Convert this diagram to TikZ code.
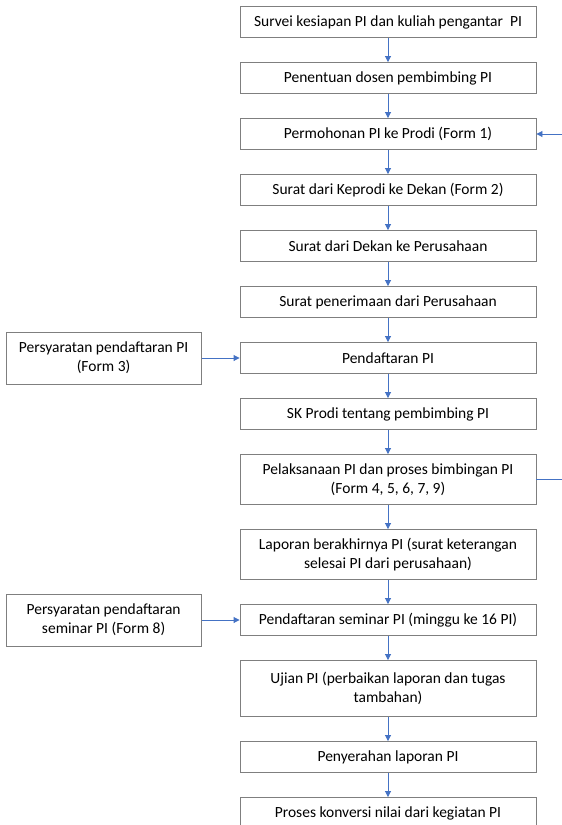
\documentclass[tikz,border=0pt]{standalone}
\usepackage{fontspec}
\setmainfont{Carlito}
\usepackage{xcolor}
\usetikzlibrary{arrows.meta,positioning}
\definecolor{flowblue}{HTML}{4472C4}
\definecolor{boxgray}{HTML}{7F7F7F}
\tikzset{
  stepbox/.style={draw=boxgray,line width=0.9pt,align=center,minimum width=296pt,
    minimum height=31pt,inner sep=2pt,font=\fontsize{15.5}{19}\selectfont},
  sidebox/.style={stepbox,minimum width=195pt,minimum height=52pt},
  flowarrow/.style={-{Triangle[length=6pt,width=6pt]},draw=flowblue,line width=0.9pt},
  flowline/.style={draw=flowblue,line width=0.9pt}
}
\begin{document}
\begin{tikzpicture}[x=1pt,y=-1pt,node distance=24.1pt and 38pt]
  \useasboundingbox (0,0) rectangle (562,825);
  % main sequence
  \node[stepbox] (s1) at (388,22) {Survei kesiapan PI dan kuliah pengantar~~PI};
  \node[stepbox,below=of s1] (s2) {Penentuan dosen pembimbing PI};
  \node[stepbox,below=of s2] (s3) {Permohonan PI ke Prodi (Form 1)};
  \node[stepbox,below=of s3] (s4) {Surat dari Keprodi ke Dekan (Form 2)};
  \node[stepbox,below=of s4] (s5) {Surat dari Dekan ke Perusahaan};
  \node[stepbox,below=of s5] (s6) {Surat penerimaan dari Perusahaan};
  \node[stepbox,below=of s6] (s7) {Pendaftaran PI};
  \node[stepbox,below=of s7] (s8) {SK Prodi tentang pembimbing PI};
  \node[stepbox,below=of s8,minimum height=50pt] (s9) {Pelaksanaan PI dan proses bimbingan PI\\(Form 4, 5, 6, 7, 9)};
  \node[stepbox,below=of s9,minimum height=50pt] (s10) {Laporan berakhirnya PI (surat keterangan\\selesai PI dari perusahaan)};
  \node[stepbox,below=of s10] (s11) {Pendaftaran seminar PI (minggu ke 16 PI)};
  \node[stepbox,below=of s11,minimum height=56pt] (s12) {Ujian PI (perbaikan laporan dan tugas\\tambahan)};
  \node[stepbox,below=of s12] (s13) {Penyerahan laporan PI};
  \node[stepbox,below=of s13] (s14) {Proses konversi nilai dari kegiatan PI};
  % requirements on the left
  \node[sidebox,left=of s7] (req1) {Persyaratan pendaftaran PI\\(Form 3)};
  \node[sidebox,left=of s11] (req2) {Persyaratan pendaftaran\\seminar PI (Form 8)};
  % loop ends on the right
  \coordinate[right=26pt of s3] (loopin);
  \coordinate[right=26pt of s9] (loopout);
  \foreach \a/\b in {s1/s2,s2/s3,s3/s4,s4/s5,s5/s6,s6/s7,s7/s8,s8/s9,s9/s10,s10/s11,s11/s12,s12/s13,s13/s14}
    \draw[flowarrow] (\a) -- (\b);
  \draw[flowarrow] (req1) -- (s7);
  \draw[flowarrow] (req2) -- (s11);
  \draw[flowarrow] (loopin) -- (s3);
  \draw[flowline] (s9) -- (loopout);
\end{tikzpicture}
\end{document}
